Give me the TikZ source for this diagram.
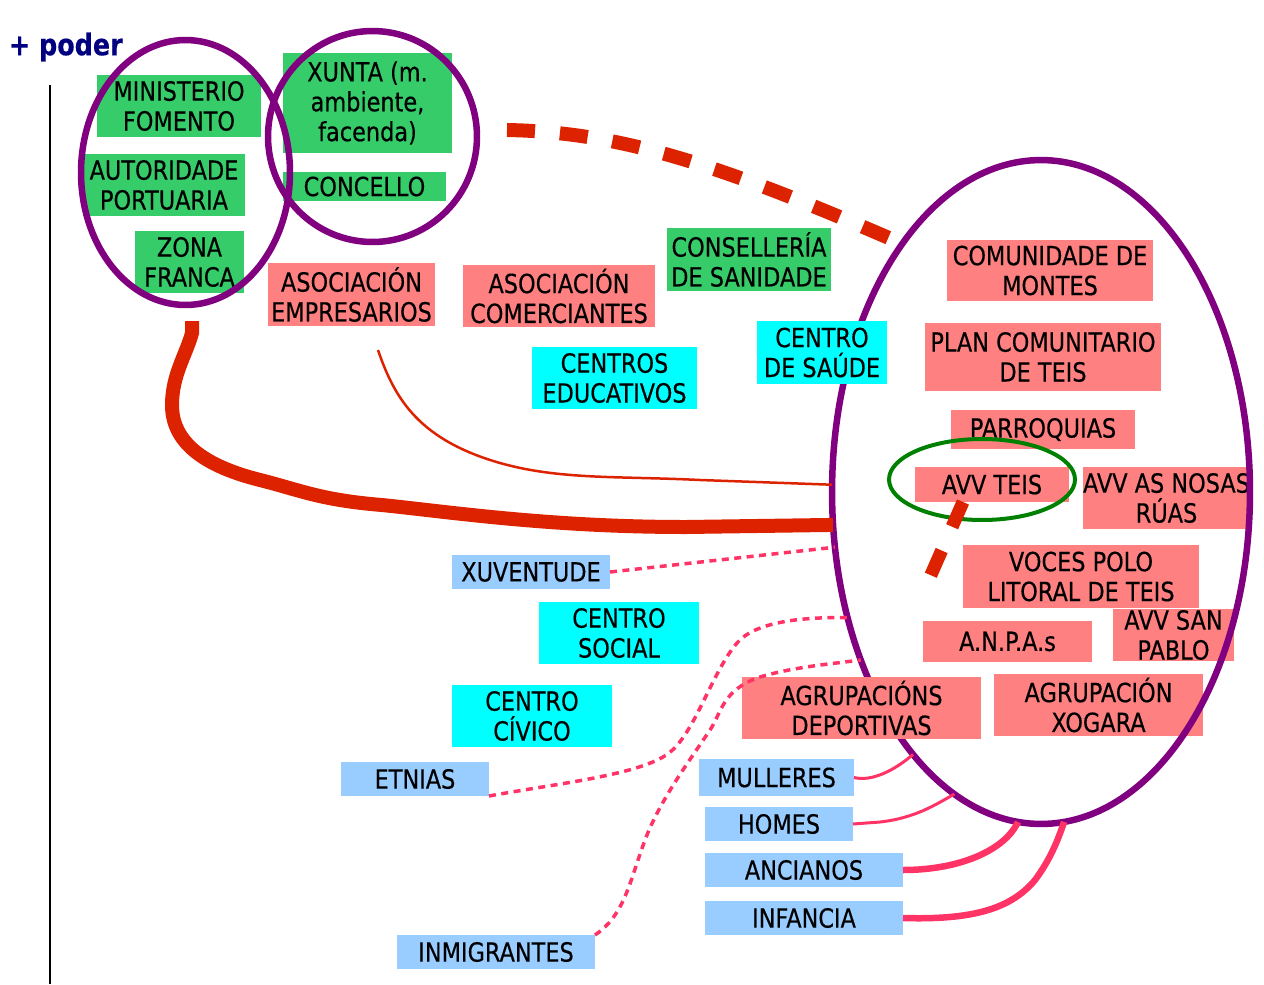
\documentclass[tikz,border=0pt]{standalone}
\usepackage{fontspec}
\setmainfont[FakeStretch=0.85, FakeBold=0.4]{DejaVu Sans}
\usetikzlibrary{shapes.geometric}
\definecolor{verde}{RGB}{54,204,106}
\definecolor{rosa}{RGB}{255,128,128}
\definecolor{ciano}{RGB}{0,255,255}
\definecolor{ceo}{RGB}{153,204,255}
\definecolor{morado}{RGB}{128,0,128}
\definecolor{vermello}{RGB}{221,34,0}
\definecolor{fucsia}{RGB}{255,51,102}
\definecolor{verdeosc}{RGB}{0,128,0}
\definecolor{marino}{RGB}{0,0,128}

\begin{document}
\begin{tikzpicture}[x=0.02cm, y=-0.02cm]
\tikzstyle{every node}=[font=\fontsize{15}{17}\selectfont, inner sep=0pt, outer sep=0pt, align=center] %%
\tikzstyle{gbox}=[fill=verde, minimum height=1.24cm]
\tikzstyle{pbox}=[fill=rosa, minimum height=1.24cm]
\tikzstyle{cbox}=[fill=ciano, minimum height=1.24cm, minimum width=3.2cm]
\tikzstyle{bbox}=[fill=ceo, minimum height=0.68cm, minimum width=3.96cm]
\tikzstyle{ring}=[ellipse, draw=morado, line width=0.13cm]
\tikzstyle{forte}=[draw=vermello, line width=0.28cm]
\tikzstyle{feble}=[draw=vermello, line width=0.05cm]
\tikzstyle{punt}=[draw=fucsia, line width=0.07cm, dash pattern=on 0.14cm off 0.11cm]
\tikzstyle{lazo}=[draw=fucsia, line width=0.06cm]
\tikzstyle{lazogros}=[draw=fucsia, line width=0.13cm]
\useasboundingbox (0,0) rectangle (1264,984);

\node[anchor=west, font=\fontsize{17}{19}\selectfont\bfseries, text=marino] (poder) at (9,47) {+ poder};
\draw[line width=0.04cm] (50,85) -- (50,984);

% asociacions do barrio
\node[pbox, minimum width=3.22cm] (nosas) at (1166.5,498) {AVV AS NOSAS\\RÚAS};
\node[pbox, minimum width=2.42cm, minimum height=1.04cm] (sanpablo) at (1173.5,635) {AVV SAN\\PABLO};
\node[pbox, minimum width=4.18cm] (xogara) at (1098.5,705) {AGRUPACIÓN\\XOGARA};
\node[ring, minimum width=8.36cm, minimum height=13.28cm] (teis) at (1041,492) {};

\node[gbox, minimum width=3.28cm] (fomento) at (179,106) {MINISTERIO\\FOMENTO};
\node[gbox, minimum width=3.38cm, minimum height=2cm] (xunta) at (367.5,103) {XUNTA (m.\\ambiente,\\facenda)};
\node[gbox, minimum width=3.24cm] (porto) at (164,185) {AUTORIDADE\\PORTUARIA};
\node[gbox, minimum width=3.26cm, minimum height=0.58cm] (concello) at (364.5,186.5) {CONCELLO};
\node[gbox, minimum width=2.18cm] (zona) at (189.5,262) {ZONA\\FRANCA};
\node[gbox, minimum width=3.28cm, minimum height=1.26cm] (sanidade) at (749,259.5) {CONSELLERÍA\\DE SANIDADE};

\node[pbox, minimum width=3.34cm, minimum height=1.26cm] (empresarios) at (351.5,294.5) {ASOCIACIÓN\\EMPRESARIOS};
\node[pbox, minimum width=3.84cm] (comerciantes) at (559,296) {ASOCIACIÓN\\COMERCIANTES};
\node[pbox, minimum width=4.12cm, minimum height=1.22cm] (montes) at (1050,270.5) {COMUNIDADE DE\\MONTES};
\node[pbox, minimum width=4.72cm, minimum height=1.36cm] (plan) at (1043,357) {PLAN COMUNITARIO\\DE TEIS};
\node[pbox, minimum width=3.68cm, minimum height=0.78cm] (parroquias) at (1043,429.5) {PARROQUIAS};
\node[pbox, minimum width=3.08cm, minimum height=0.7cm] (avvteis) at (992,484.5) {AVV TEIS};
\node[pbox, minimum width=4.72cm, minimum height=1.26cm] (voces) at (1081,576.5) {VOCES POLO\\LITORAL DE TEIS};
\node[pbox, minimum width=3.38cm, minimum height=0.82cm] (anpas) at (1007.5,641.5) {A.N.P.A.s};
\node[pbox, minimum width=4.78cm] (deportivas) at (861.5,708) {AGRUPACIÓNS\\DEPORTIVAS};

\node[cbox, minimum width=3.3cm] (educativos) at (614.5,378) {CENTROS\\EDUCATIVOS};
\node[cbox, minimum width=2.6cm, minimum height=1.26cm] (saude) at (822,352.5) {CENTRO\\DE SAÚDE};
\node[cbox] (social) at (619,633) {CENTRO\\SOCIAL};
\node[cbox] (civico) at (532,716) {CENTRO\\CÍVICO};

\node[bbox, minimum width=3.16cm] (xuventude) at (531,572) {XUVENTUDE};
\node[bbox, minimum width=2.96cm] (etnias) at (415,779) {ETNIAS};
\node[bbox, minimum width=3.1cm, minimum height=0.74cm] (mulleres) at (776.5,777.5) {MULLERES};
\node[bbox, minimum width=2.96cm] (homes) at (779,824) {HOMES};
\node[bbox] (ancianos) at (804,870) {ANCIANOS};
\node[bbox] (infancia) at (804,918) {INFANCIA};
\node[bbox] (inmigrantes) at (496,952) {INMIGRANTES};

\node[ring, minimum width=4.18cm, minimum height=5.3cm] (estado) at (185.5,172.5) {};
\node[ring, minimum width=4.18cm, minimum height=4.22cm] (goberno) at (372.5,136.5) {};
\node[ellipse, draw=verdeosc, line width=0.08cm, minimum width=3.72cm, minimum height=1.62cm] (cteis) at (982,479.5) {};

\coordinate (r1) at (192,321);
\coordinate (r2) at (378,350);
\coordinate (d1) at (507,130);
\coordinate (d2) at (889,238);
\coordinate (d3) at (963,502);
\coordinate (d4) at (930,577);

% relacions de poder
\draw[forte] (r1) -- (192,333) .. controls (186,355) and (172,375) .. (172,405) .. controls (172,440) and (200,465) .. (260,480) .. controls (300,490) and (320,500) .. (382,505) .. controls (450,512) and (550,527) .. (686,527) -- (teis.189);
\draw[feble] (r2) .. controls (395,400) and (420,440) .. (500,463) .. controls (560,480) and (620,476) .. (700,480) -- (teis.178);
\draw[forte, dash pattern=on 0.56cm off 0.5cm] (d1) .. controls (620,132) and (720,165) .. (d2);
\draw[forte, line width=0.26cm, dash pattern=on 0.54cm off 0.52cm] (d3) -- (d4);

\draw[punt] (xuventude.east) -- (teis.195);
\draw[punt] (etnias.south east) .. controls (560,783) and (640,775) .. (669,753) .. controls (695,733) and (712,672) .. (737,643) .. controls (755,622) and (800,617) .. (teis.213);
\draw[punt] (inmigrantes.north east) .. controls (625,915) and (630,880) .. (645,840) .. controls (660,800) and (690,760) .. (710,730) .. controls (722,712) and (722,690) .. (760,677) .. controls (790,668) and (820,665) .. (teis.223);
\draw[lazo] (mulleres.east) .. controls (872,782) and (895,770) .. (teis.244);
\draw[lazo] (homes.east) -- (880,822) .. controls (915,818) and (935,805) .. (teis.254);
\draw[lazogros] (ancianos.east) .. controls (960,870) and (1005,850) .. (teis.266);
\draw[lazogros] (infancia.east) .. controls (970,920) and (1010,910) .. (1035,880) .. controls (1050,860) and (1058,840) .. (teis.-86);
\end{tikzpicture}
\end{document}
